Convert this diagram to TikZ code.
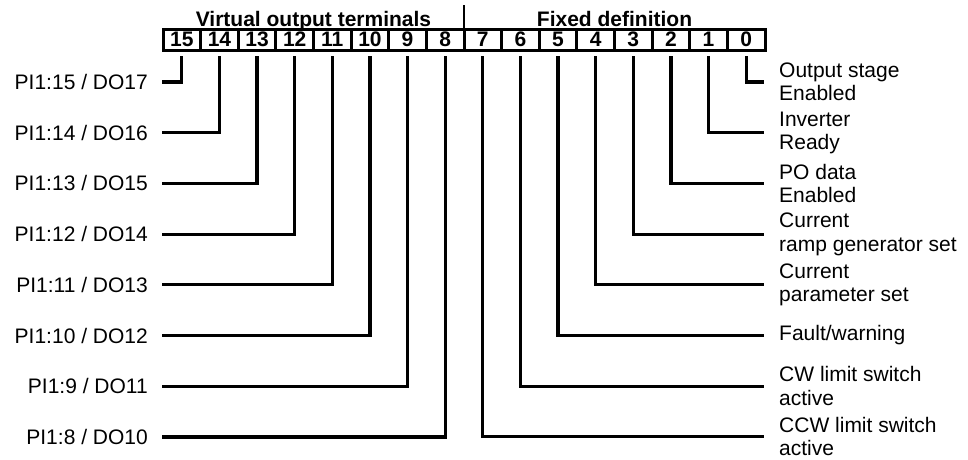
\documentclass[tikz,border=0pt]{standalone}
\usepackage{fontspec}
\setmainfont{Liberation Sans}
\begin{document}
\begin{tikzpicture}[x=1pt,y=-1pt,
  cell/.style={draw,line width=3pt,minimum width=37.625pt,minimum height=21pt,
    inner sep=0pt,outer sep=0pt,font=\bfseries\fontsize{21}{24}\selectfont},
  head/.style={anchor=base,inner sep=0pt,font=\bfseries\fontsize{21}{24}\selectfont},
  lbl/.style={inner sep=0pt,font=\fontsize{21}{23.5}\selectfont,align=left},
  conn/.style={line width=3.2pt},
  divider/.style={line width=2.6pt}]
\useasboundingbox (0,0) rectangle (968,459);

% bit register, bit 15 on the left
\foreach \b in {0,...,15}
  \node[cell] (b\b) at ({163+(15.5-\b)*37.625},39.5) {\b};

% group headings and separator
\node[head] (hv) at (313.5,26) {Virtual output terminals};
\node[head] (hf) at (614.5,26) {Fixed definition};
\coordinate (divtop) at (464,5);
\draw[divider] (b8.north east) -- (divtop);

% left-hand labels (virtual outputs)
\node[lbl,anchor=east] (l15) at (148,82.0)  {PI1:15 / DO17};
\node[lbl,anchor=east] (l14) at (148,132.7) {PI1:14 / DO16};
\node[lbl,anchor=east] (l13) at (148,183.4) {PI1:13 / DO15};
\node[lbl,anchor=east] (l12) at (148,234.1) {PI1:12 / DO14};
\node[lbl,anchor=east] (l11) at (148,284.8) {PI1:11 / DO13};
\node[lbl,anchor=east] (l10) at (148,335.5) {PI1:10 / DO12};
\node[lbl,anchor=east] (l9)  at (148,386.2) {PI1:9 / DO11};
\node[lbl,anchor=east] (l8)  at (148,436.9) {PI1:8 / DO10};

% right-hand labels (fixed bits)
\node[lbl,anchor=west] (r0) at (779,82.0)  {Output stage\\Enabled};
\node[lbl,anchor=west] (r1) at (779,132.7) {Inverter\\Ready};
\node[lbl,anchor=west] (r2) at (779,183.4) {PO data\\Enabled};
\node[lbl,anchor=west] (r3) at (779,234.1) {Current\\ramp generator set};
\node[lbl,anchor=west] (r4) at (779,284.8) {Current\\parameter set};
\node[lbl,anchor=west] (r5) at (779,335.5) {Fault/warning};
\node[lbl,anchor=west] (r6) at (779,386.2) {CW limit switch\\active};
\node[lbl,anchor=west] (r7) at (779,436.4) {CCW limit switch\\active};

% connectors
\foreach \b in {8,...,15}
  \draw[conn] ([yshift=-6pt]b\b.south) |- ([xshift=14pt]l\b.east);
\foreach \b in {0,...,7}
  \draw[conn] ([yshift=-6pt]b\b.south) |- ([xshift=-15pt]r\b.west);
\end{tikzpicture}
\end{document}
